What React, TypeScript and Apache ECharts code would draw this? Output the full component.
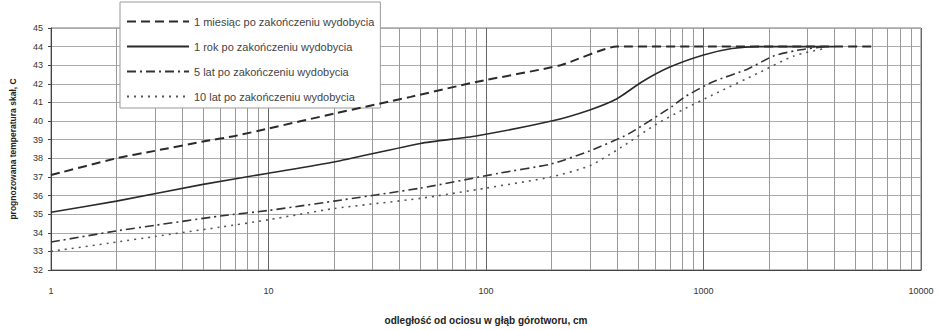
import React, { useEffect, useRef } from "react";
import * as echarts from "echarts";

const seriesNames = [
  "1 miesiąc po zakończeniu wydobycia",
  "1 rok po zakończeniu wydobycia",
  "5 lat po zakończeniu wydobycia",
  "10 lat po zakończeniu wydobycia",
];

const x1 = [1, 2, 3, 5, 7, 10, 20, 45, 90, 220, 400, 1000, 3000, 6000];
const y1 = [37.1, 38.0, 38.4, 38.9, 39.2, 39.6, 40.4, 41.3, 42.1, 43.0, 44.0, 44.0, 44.0, 44.0];

const x2 = [1, 2, 5, 10, 20, 50, 90, 200, 300, 400, 520, 700, 1000, 1350, 1800, 4000];
const y2 = [35.1, 35.7, 36.6, 37.2, 37.8, 38.8, 39.2, 40.0, 40.6, 41.2, 42.1, 42.9, 43.55, 43.9, 44.0, 44.0];

const x3 = [1, 2, 3, 6, 10, 20, 50, 115, 200, 300, 450, 720, 820, 1100, 1600, 2100, 2700, 3600];
const y3 = [33.5, 34.1, 34.4, 34.9, 35.2, 35.7, 36.4, 37.2, 37.7, 38.4, 39.3, 40.8, 41.3, 42.1, 42.8, 43.5, 43.8, 44.0];

const x4 = [1, 2, 3, 6, 10, 20, 50, 100, 200, 300, 420, 600, 800, 1100, 1800, 2600, 3600];
const y4 = [33.0, 33.5, 33.8, 34.3, 34.7, 35.3, 35.85, 36.4, 37.0, 37.6, 38.6, 39.8, 40.6, 41.4, 42.6, 43.5, 43.9];

const minorGridX = [
  2, 3, 4, 5, 6, 7, 8, 9,
  20, 30, 40, 50, 60, 70, 80, 90,
  200, 300, 400, 500, 600, 700, 800, 900,
  2000, 3000, 4000, 5000, 6000, 7000, 8000, 9000,
];

const xAxisName = "odległość od ociosu w głąb górotworu, cm";
const yAxisName = "prognozowana temperatura skał, C";

const zip = (xs: number[], ys: number[]) => xs.map((x, i) => [x, ys[i]]);

export default function App() {
  const ref = useRef<HTMLDivElement>(null);
  useEffect(() => {
    if (!ref.current) return;
    const chart = echarts.init(ref.current, undefined, { renderer: "svg" });
    const font = "'Liberation Sans', Arial, sans-serif";
    const lineColor = "#2a2a2a";
    chart.setOption({
      animation: false,
      backgroundColor: "#ffffff",
      textStyle: { fontFamily: font },
      grid: {
        left: 45,
        right: 20,
        top: 28,
        bottom: 58,
        show: true,
        borderColor: "#777",
        borderWidth: 1,
      },
      legend: {
        orient: "vertical",
        left: 120,
        top: 2,
        padding: [14, 6, 6, 6],
        itemGap: 14,
        itemWidth: 62,
        itemHeight: 10,
        backgroundColor: "#ffffff",
        borderColor: "#999",
        borderWidth: 1,
        borderRadius: 0,
        itemStyle: { opacity: 0 },
        textStyle: { fontSize: 11, color: "#444", fontFamily: font },
        data: seriesNames,
      },
      xAxis: {
        type: "log",
        logBase: 10,
        min: 1,
        max: 10000,
        name: xAxisName,
        nameLocation: "middle",
        nameGap: 45,
        nameTextStyle: { fontSize: 10, color: "#222", fontWeight: "bold" },
        axisLine: { show: true, lineStyle: { color: "#444" } },
        axisTick: { show: false },
        axisLabel: {
          fontSize: 9,
          color: "#333",
          margin: 16,
          formatter: (v: number) => String(Math.round(v)),
        },
        splitLine: { show: true, lineStyle: { color: "#666", width: 1 } },
      },
      yAxis: {
        type: "value",
        min: 32,
        max: 45,
        interval: 1,
        name: yAxisName,
        nameLocation: "middle",
        nameGap: 34,
        nameTextStyle: { fontSize: 8.5, color: "#222", fontWeight: "bold" },
        axisLine: { show: true, lineStyle: { color: "#444" } },
        axisTick: { show: true, length: 3, lineStyle: { color: "#444" } },
        axisLabel: { fontSize: 9, color: "#333", margin: 8 },
        splitLine: { show: true, lineStyle: { color: "#aaa", width: 1 } },
      },
      series: [
        {
          name: seriesNames[0],
          type: "line",
          data: zip(x1, y1),
          symbol: "none",
          smooth: 0.2,
          lineStyle: { color: lineColor, width: 2, type: [9, 5] },
          itemStyle: { color: lineColor },
          z: 5,
          markLine: {
            silent: true,
            symbol: "none",
            label: { show: false },
            lineStyle: { color: "#999", width: 1, type: "solid" },
            data: minorGridX.map((v) => ({ xAxis: v })),
            z: 1,
          },
        },
        {
          name: seriesNames[1],
          type: "line",
          data: zip(x2, y2),
          symbol: "none",
          smooth: 0.2,
          lineStyle: { color: lineColor, width: 1.6, type: "solid" },
          itemStyle: { color: lineColor },
          z: 5,
        },
        {
          name: seriesNames[2],
          type: "line",
          data: zip(x3, y3),
          symbol: "none",
          smooth: 0.2,
          lineStyle: { color: "#333", width: 1.6, type: [9, 4, 2, 4] },
          itemStyle: { color: "#333" },
          z: 5,
        },
        {
          name: seriesNames[3],
          type: "line",
          data: zip(x4, y4),
          symbol: "none",
          smooth: 0.2,
          lineStyle: { color: "#555", width: 1.6, type: [2, 5] },
          itemStyle: { color: "#555" },
          z: 5,
        },
      ],
    });
    return () => chart.dispose();
  }, []);
  return (
    <div
      ref={ref}
      style={{ position: "fixed", left: 0, top: 0, width: 941, height: 330 }}
    />
  );
}
